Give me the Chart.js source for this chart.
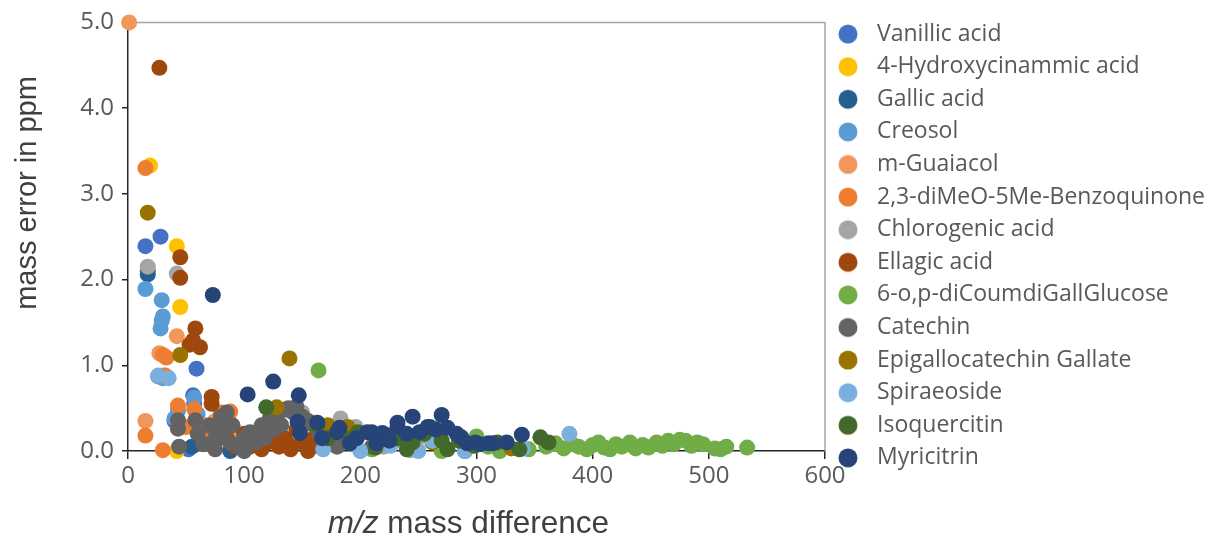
<!DOCTYPE html>
<html>
<head>
<meta charset="utf-8">
<script src="https://cdn.jsdelivr.net/npm/chart.js@4.4.0/dist/chart.umd.min.js"></script>
<style>
  html, body { margin: 0; padding: 0; background: #fff; }
</style>
</head>
<body>
<canvas id="myChart" width="1217" height="540"></canvas>
<script>
const seriesNames = ['Vanillic acid', '4-Hydroxycinammic acid', 'Gallic acid', 'Creosol', 'm-Guaiacol',
  '2,3-diMeO-5Me-Benzoquinone', 'Chlorogenic acid', 'Ellagic acid', '6-o,p-diCoumdiGallGlucose',
  'Catechin', 'Epigallocatechin Gallate', 'Spiraeoside', 'Isoquercitin', 'Myricitrin'];
const seriesColors = ['#4472C4', '#FFC000', '#255E91', '#5B9BD5', '#F1975A', '#ED7D31', '#A5A5A5',
  '#9E480E', '#70AD47', '#636363', '#997300', '#7CAFDD', '#43682B', '#264478'];

// [m/z mass difference, mass error in ppm]
const vanillicAcid = [[15,2.39],[28,2.50],[59,0.96],[56,0.65],[57,0.55],[40,0.35],[52,0.02],[79,0.15],[66,0.18],[96,0.04],[112,0.1],[190,0.12]];
const hydroxycinammicAcid = [[19,3.33],[42,2.39],[45,1.68],[42,0.0]];
const gallicAcid = [[17,2.1],[17,2.06],[88,0.0],[55,0.05],[115,0.05],[130,0.18]];
const creosol = [[15,1.89],[29,1.76],[30,1.57],[29,1.52],[28,1.43],[26,0.87],[43,0.47],[40,0.38],[57,0.62],[60,0.43],[30,0.85]];
const mGuaiacol = [[1,5.0],[15,0.35],[42,1.34],[27,1.14],[30,0.88],[75,0.35],[90,0.15]];
const benzoquinone = [[15,3.30],[30,1.12],[33,1.09],[32,0.88],[34,0.86],[15,0.18],[30,0.01],[43,0.53],[57,0.49],[65,0.3],[80,0.45],[88,0.46],[72,0.2],[50,0.28],[100,0.1]];
const chlorogenicAcid = [[17,2.15],[42,2.07],[183,0.38],[243,0.01],[196,0.28],[150,0.45],[120,0.2],[250,0.15],[165,0.1],[220,0.05]];
const ellagicAcid = [[27,4.47],[45,2.26],[45,2.02],[58,1.43],[56,1.29],[62,1.21],[53,1.24],[72,0.63],[72,0.55],[100,0.2],[105,0.05],[110,0.15],[115,0.02],[120,0.1],[125,0.2],[130,0.05],[135,0.15],[140,0.02],[145,0.25],[150,0.1],[155,0.0],[160,0.15],[165,0.05],[112,0.08],[128,0.12],[138,0.08],[118,0.25],[92,0.05],[85,0.15],[150,0.3],[80,0.3]];
const diCoumdiGallGlucose = [[164,0.94],[170,0.1],[210,0.02],[230,0.12],[265,0.1],[270,0.0],[300,0.17],[310,0.05],[320,0.0],[345,0.02],[360,0.05],[368,0.09],[375,0.03],[382,0.08],[388,0.05],[395,0.02],[400,0.07],[405,0.1],[410,0.04],[415,0.02],[420,0.08],[425,0.05],[432,0.1],[437,0.03],[443,0.07],[448,0.04],[455,0.1],[460,0.06],[465,0.12],[470,0.08],[475,0.13],[480,0.12],[485,0.06],[490,0.1],[495,0.08],[505,0.03],[510,0.02],[515,0.05],[533,0.04]];
const catechin = [[43,0.36],[43,0.26],[44,0.05],[58,0.36],[60,0.2],[65,0.08],[70,0.3],[75,0.15],[80,0.4],[82,0.25],[85,0.45],[88,0.1],[90,0.3],[95,0.05],[100,0.15],[105,0.22],[110,0.1],[115,0.3],[118,0.15],[122,0.38],[125,0.25],[128,0.42],[132,0.3],[135,0.48],[138,0.5],[142,0.45],[145,0.52],[150,0.4],[155,0.35],[160,0.3],[165,0.2],[170,0.25],[180,0.05],[175,0.1],[195,0.1],[210,0.05],[100,0.0],[75,0.02]];
const epigallocatechinGallate = [[17,2.78],[45,1.12],[139,1.08],[128,0.51],[189,0.28],[172,0.3],[225,0.18],[262,0.1],[330,0.03],[290,0.0]];
const spiraeoside = [[380,0.2],[168,0.02],[250,0.0],[290,0.0],[340,0.03],[226,0.06],[200,0.0],[262,0.12],[35,0.85],[26,0.88]];
const isoquercitin = [[119,0.51],[163,0.3],[172,0.15],[190,0.14],[198,0.22],[232,0.15],[245,0.1],[255,0.2],[270,0.12],[285,0.12],[298,0.06],[318,0.1],[337,0.02],[355,0.16],[362,0.1],[240,0.02],[213,0.04],[275,0.02]];
const myricitrin = [[73,1.82],[103,0.66],[125,0.81],[147,0.65],[146,0.34],[163,0.33],[182,0.27],[148,0.21],[180,0.22],[191,0.09],[206,0.22],[214,0.09],[219,0.21],[210,0.22],[220,0.19],[232,0.28],[232,0.33],[245,0.40],[251,0.22],[258,0.28],[260,0.28],[270,0.42],[275,0.27],[283,0.2],[287,0.16],[292,0.09],[299,0.1],[303,0.08],[310,0.09],[314,0.09],[326,0.1],[339,0.19],[240,0.2],[265,0.25],[225,0.12],[197,0.15],[167,0.15]];

const seriesData = [vanillicAcid, hydroxycinammicAcid, gallicAcid, creosol, mGuaiacol, benzoquinone,
  chlorogenicAcid, ellagicAcid, diCoumdiGallGlucose, catechin, epigallocatechinGallate, spiraeoside,
  isoquercitin, myricitrin];

const xTitleItalic = 'm/z';
const xTitleRest = ' mass difference';
const yTitle = 'mass error in ppm';

// legend dot, drawn a bit left of centre so the text gap matches
function makeLegendIcon(color) {
  const c = document.createElement('canvas');
  c.width = 26; c.height = 22;
  const g = c.getContext('2d');
  g.fillStyle = color;
  g.beginPath();
  g.arc(10.95, 11, 9.5, 0, Math.PI * 2);
  g.fill();
  return c;
}
const legendIcons = seriesColors.map(makeLegendIcon);

// gray top/right frame + axis titles (x title has italic m/z)
const framePlugin = {
  id: 'frame',
  afterLayout(chart) {
    // legend list starts higher than the plot area
    chart.legend.top -= 9;
  },
  beforeDatasetsDraw(chart) {
    const { ctx, chartArea: a } = chart;
    ctx.save();
    ctx.strokeStyle = '#A6A6A6';
    ctx.lineWidth = 1.5;
    ctx.beginPath();
    ctx.moveTo(a.left, a.top);
    ctx.lineTo(a.right, a.top);
    ctx.lineTo(a.right, a.bottom);
    ctx.stroke();
    ctx.restore();
  },
  afterDraw(chart) {
    const { ctx, chartArea: a } = chart;
    ctx.save();
    ctx.fillStyle = '#404040';
    ctx.textBaseline = 'middle';
    ctx.font = 'italic 31.5px "Liberation Sans"';
    const w1 = ctx.measureText(xTitleItalic).width;
    ctx.font = '31.5px "Liberation Sans"';
    const w2 = ctx.measureText(xTitleRest).width;
    const x0 = (a.left + a.right) / 2 - 8 - (w1 + w2) / 2;
    ctx.font = 'italic 31.5px "Liberation Sans"';
    ctx.fillText(xTitleItalic, x0, 524);
    ctx.font = '31.5px "Liberation Sans"';
    ctx.fillText(xTitleRest, x0 + w1, 524);

    ctx.translate(28, 193);
    ctx.rotate(-Math.PI / 2);
    ctx.textAlign = 'center';
    ctx.font = '29px "Liberation Sans"';
    ctx.fillText(yTitle, 0, 0);
    ctx.restore();
  }
};

const datasets = seriesNames.map((name, i) => ({
  label: name,
  data: seriesData[i].map(p => ({ x: p[0], y: p[1] })),
  backgroundColor: seriesColors[i],
  borderWidth: 0,
  pointRadius: 8,
  pointHoverRadius: 8,
  clip: false,
  order: seriesNames.length - i
}));

new Chart(document.getElementById('myChart'), {
  type: 'scatter',
  data: { datasets },
  plugins: [framePlugin],
  options: {
    responsive: false,
    animation: false,
    devicePixelRatio: 1,
    layout: { padding: { top: 22, right: 12, bottom: 0, left: 0 } },
    scales: {
      x: {
        min: 0, max: 600,
        ticks: { stepSize: 100, font: { family: 'Open Sans', size: 24 }, color: '#595959', padding: 3 },
        grid: { drawOnChartArea: false, drawTicks: true, tickLength: 8, color: '#262626', lineWidth: 1.5 },
        border: { color: '#262626', width: 1.5 },
        afterFit: s => { s.height = 89; }
      },
      y: {
        min: 0, max: 5,
        ticks: { stepSize: 1, callback: v => v.toFixed(1), font: { family: 'Open Sans', size: 24 }, color: '#595959', padding: 8 },
        grid: { drawOnChartArea: false, drawTicks: true, tickLength: 6, color: '#262626', lineWidth: 1.5 },
        border: { color: '#262626', width: 1.5 },
        afterFit: s => { s.width = 128; }
      }
    },
    plugins: {
      tooltip: { enabled: false },
      legend: {
        position: 'right',
        align: 'start',
        maxWidth: 380,
        labels: {
          usePointStyle: true,
          pointStyleWidth: 30.9,
          padding: 9.6,
          color: '#595959',
          font: { family: 'Open Sans', size: 23 },
          generateLabels: chart => chart.data.datasets.map((ds, i) => ({
            text: ds.label,
            fillStyle: ds.backgroundColor,
            strokeStyle: ds.backgroundColor,
            lineWidth: 0,
            pointStyle: legendIcons[i],
            hidden: false,
            datasetIndex: i,
            fontColor: '#595959'
          }))
        }
      }
    }
  }
});
</script>
</body>
</html>
